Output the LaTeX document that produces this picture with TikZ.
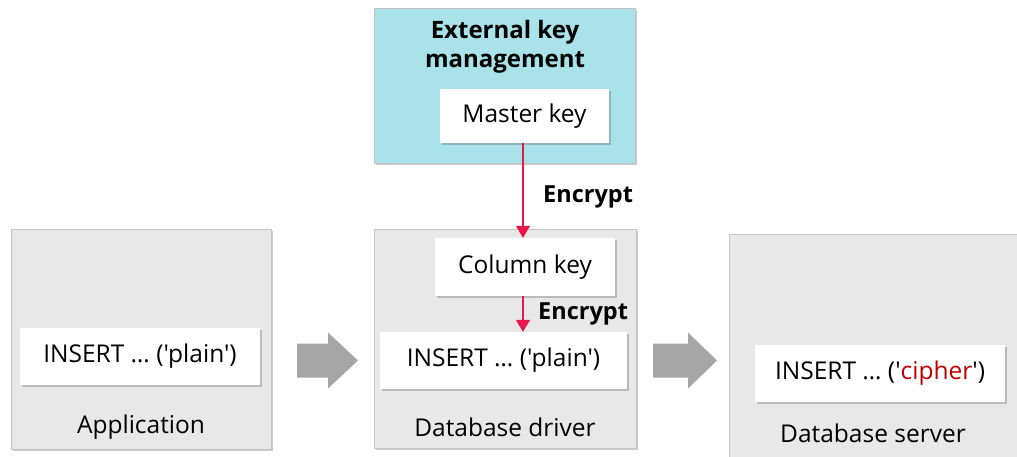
\documentclass[tikz,border=0pt]{standalone}
\usepackage{fontspec}
\setmainfont{Open Sans}[Ligatures=TeXOff]
\usetikzlibrary{arrows.meta,shadows}
\definecolor{boxgray}{HTML}{E8E8E8}
\definecolor{boxline}{HTML}{C4C4C4}
\definecolor{kmcyan}{HTML}{A9E2E8}
\definecolor{arrred}{HTML}{E8174A}
\definecolor{ciphred}{HTML}{C00000}
\definecolor{blockgray}{HTML}{A6A6A6}
\begin{document}
\begin{tikzpicture}[x=1pt,y=-1pt,
  container/.style={draw=boxline, fill=boxgray, line width=0.8pt, inner sep=0pt,
    drop shadow={shadow xshift=2pt, shadow yshift=-2pt, opacity=0.35, fill=black!60}},
  kmbox/.style={container, fill=kmcyan},
  whitebox/.style={fill=white, inner sep=0pt,
    drop shadow={shadow xshift=2pt, shadow yshift=-2pt, opacity=0.35, fill=black!60},
    font=\fontsize{24.5}{29}\selectfont},
  lbl/.style={font=\fontsize{24.5}{29}\selectfont, inner sep=0pt},
  enc/.style={font=\fontsize{23.5}{28}\selectfont\bfseries, inner sep=0pt, anchor=west},
  redarrow/.style={draw=arrred, line width=1.3pt, -{Triangle[width=14pt,length=12pt]}, fill=none},
  block/.style={fill=blockgray}
]
\useasboundingbox (0,0) rectangle (1017,456);
\clip (0,0) rectangle (1017,456);

% containers
\node[container, minimum width=260pt, minimum height=220pt] (app) at (141,339) {};
\node[container, minimum width=262pt, minimum height=219pt] (drv) at (505,338.5) {};
\node[container, minimum width=300pt, minimum height=240pt] (srv) at (879,354) {};
\node[kmbox, minimum width=261pt, minimum height=155pt] (km) at (504.5,85.5) {};

% titles
\node[lbl, font=\fontsize{24}{29}\selectfont\bfseries, align=center] (kmt) at (505,47) {External key\\management};
\node[lbl] (appl) at (141,427) {Application};
\node[lbl] (drvl) at (505,427) {Database driver};
\node[lbl] (srvl) at (873,433) {Database server};

% white boxes
\node[whitebox, minimum width=169pt, minimum height=54pt] (mk) at (524.5,116) {Master key};
\node[whitebox, minimum width=180pt, minimum height=58pt] (ck) at (525,267) {Column key};
\node[whitebox, minimum width=240pt, minimum height=57pt] (ai) at (140,356.5) {INSERT … ('plain')};
\node[whitebox, minimum width=247pt, minimum height=57pt] (di) at (503.5,360.5) {INSERT … ('plain')};
\node[whitebox, minimum width=250pt, minimum height=57pt] (si) at (880,373.5) {INSERT … ('\textcolor{ciphred}{cipher}')};

% red arrows
\draw[redarrow] (mk.south -| 523,0) -- (ck.north -| 523,0);
\draw[redarrow] (ck.south -| 523,0) -- (di.north -| 523,0);
\node[enc] (e1) at (543,197) {Encrypt};
\node[enc] (e2) at (538,314) {Encrypt};

% block arrows
\coordinate (b1) at (297,360.5);
\fill[block] (b1) ++(0,-17) -- ++(31,0) -- ++(0,-11) -- ++(30,28) -- ++(-30,28) -- ++(0,-11) -- ++(-31,0) -- cycle;
\coordinate (b2) at (653,360.5);
\fill[block] (b2) ++(0,-17) -- ++(35,0) -- ++(0,-11) -- ++(29,28) -- ++(-29,28) -- ++(0,-11) -- ++(-35,0) -- cycle;
\end{tikzpicture}
\end{document}
